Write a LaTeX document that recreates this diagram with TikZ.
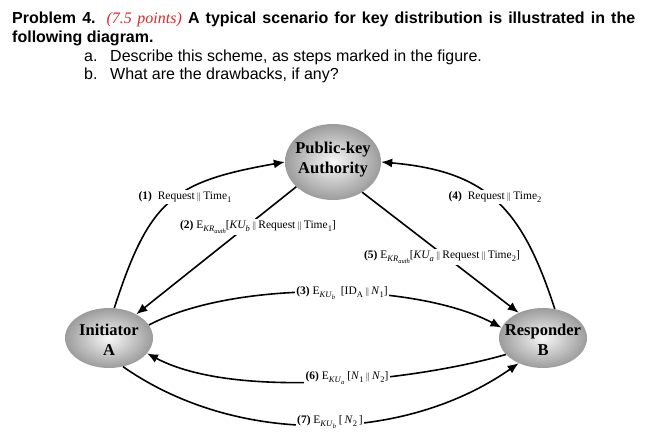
\documentclass[tikz,border=0pt]{standalone}
\usepackage{fontspec}
\setmainfont{Liberation Serif}
\newfontfamily\arialfont{Liberation Sans}
\usetikzlibrary{arrows.meta,shapes.geometric}
\definecolor{probred}{RGB}{220,40,40}
\newcommand{\dbar}{\,{\fontsize{9}{9}\selectfont$\|$}\,}
\newcommand{\sbs}[1]{\raisebox{-2.6pt}{\fontsize{8.5}{9}\selectfont #1}}
\newcommand{\ssbs}[1]{\raisebox{-1.8pt}{\fontsize{6.5}{7}\selectfont #1}}
\begin{document}
\begin{tikzpicture}[x=1pt,y=1pt,
  party/.style={ellipse, shading=radial, inner color=white!94!gray, outer color=gray!78, inner sep=0pt},
  partytext/.style={align=center, inner sep=0pt, font=\fontsize{16.5}{20}\selectfont\bfseries},
  msg/.style={line width=1.6pt, -{Latex[length=11pt,width=9pt]}},
  lbl/.style={fill=white, inner sep=1.5pt, font=\fontsize{11.5}{13}\selectfont},
  hdr/.style={anchor=base west, inner sep=0pt, font=\arialfont\fontsize{16}{19}\selectfont}]
\useasboundingbox (0,0) rectangle (665,446);
% header
\node[hdr] (h1) at (12,422) {\makebox[623pt][s]{\bfseries Problem 4. {\color{probred}\rmfamily\mdseries\itshape (7.5 points)} A typical scenario for key distribution is illustrated in the}};
\node[hdr] (h2) at (12,403.3) {\bfseries following diagram.};
\node[hdr] (h3a) at (84,384) {a.};
\node[hdr] (h3) at (110,384) {Describe this scheme, as steps marked in the figure.};
\node[hdr] (h4a) at (84,366) {b.};
\node[hdr] (h4) at (110,366) {What are the drawbacks, if any?};
% parties
\node[party, minimum width=96, minimum height=76] (pka) at (333,284) {};
\node[partytext] (pkat) at (333,286) {Public-key\\Authority};
\node[party, minimum width=88, minimum height=60] (ini) at (109,108) {};
\node[partytext] (init) at (109,106) {Initiator\\A};
\node[party, minimum width=88, minimum height=60] (res) at (543,108) {};
\node[partytext] (rest) at (543,106) {Responder\\B};
% messages
\draw[msg] (ini.80) to[out=72,in=190,looseness=1.3] (pka.180);
\draw[msg] (pka.214) -- (ini.41);
\draw[msg] (ini.18) to[out=28,in=152,looseness=0.7] (res.166);
\draw[msg] (res.68) to[out=108,in=-5,looseness=1.2] (pka.0);
\draw[msg] (pka.-46) -- (res.134);
\draw[msg] (res.204) to[out=196,in=-28,looseness=0.7] (ini.-22);
\draw[msg] (ini.-64) to[out=-35,in=215,looseness=0.9] (res.226);
% labels
\node[lbl] (l1) at (185,249) {\textbf{(1)}\ \ Request\dbar Time\sbs{1}};
\node[lbl] (l2) at (258,219) {\textbf{(2)} E\sbs{\textit{KR}\ssbs{\textit{auth}}}[\textit{KU\sbs{b}}\dbar Request\dbar Time\sbs{1}]};
\node[lbl] (l3) at (342,153) {\textbf{(3)} E\sbs{\textit{KU}\ssbs{\textit{b}}}\ \ [ID\sbs{A}\dbar \textit{N}\sbs{1}]};
\node[lbl] (l4) at (495,249) {\textbf{(4)}\ \ Request\dbar Time\sbs{2}};
\node[lbl] (l5) at (442,189) {\textbf{(5)} E\sbs{\textit{KR}\ssbs{\textit{auth}}}[\textit{KU\sbs{a}}\dbar Request\dbar Time\sbs{2}]};
\node[lbl] (l6) at (347,68) {\textbf{(6)} E\sbs{\textit{KU}\ssbs{\textit{a}}}\ [\textit{N}\sbs{1}\dbar \textit{N}\sbs{2}]};
\node[lbl] (l7) at (330,24) {\textbf{(7)} E\sbs{\textit{KU}\ssbs{\textit{b}}}\ [\,\textit{N}\sbs{2}\,]};
\end{tikzpicture}
\end{document}
